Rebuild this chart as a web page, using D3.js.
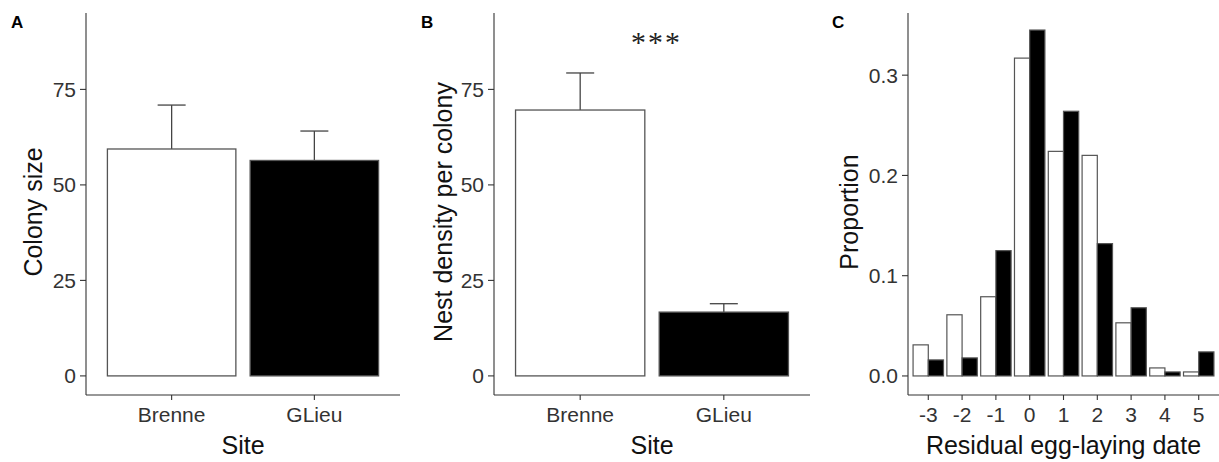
<!DOCTYPE html>
<html lang="en">
<head>
    <meta charset="UTF-8">
    <title>Colony size, nest density and laying date</title>
    <script src="https://d3js.org/d3.v7.min.js"></script>
    <style>
        body { margin: 0; background: white; font-family: "Liberation Sans", Arial, sans-serif; }
        .axis-line { stroke: #333; stroke-width: 1.1px; }
        .tick-label { font-size: 21px; fill: #333; }
        .axis-title { font-size: 25px; fill: #111; }
        .panel-label { font-size: 17px; font-weight: bold; fill: #000; }
    </style>
</head>
<body>
    <svg width="1219" height="462"></svg>

    <script>
        // data
        const sites = ["Brenne", "GLieu"];
        const colonySize = [59.4, 56.4];
        const colonySizeSE = [11.5, 7.7];
        const nestDensity = [69.6, 16.7];
        const nestDensitySE = [9.7, 2.2];

        const residualDays = ["-3", "-2", "-1", "0", "1", "2", "3", "4", "5"];
        const propBrenne = [0.031, 0.061, 0.079, 0.317, 0.224, 0.220, 0.053, 0.008, 0.004];
        const propGLieu  = [0.016, 0.018, 0.125, 0.345, 0.264, 0.132, 0.068, 0.004, 0.024];

        const fills = { Brenne: "white", GLieu: "black" };
        const yTicksAB = [0, 25, 50, 75];
        const yTicksC = [0, 0.1, 0.2, 0.3];

        const svg = d3.select("svg");
        const yTop = 13, yBottom = 395;

        // draws the axes of one panel, returns scales
        function drawAxes(x0, x1, yDomain, yTicks, yFmt, cats, xTitle, yTitle, yTitleX, label, labelX) {
            const g = svg.append("g");
            const x = d3.scaleBand().domain(cats).range([x0, x1])
                .paddingInner(0.1).paddingOuter(0.15);
            const y = d3.scaleLinear().domain(yDomain).range([yBottom, yTop]);

            g.append("line").attr("class", "axis-line")
                .attr("x1", x0).attr("x2", x0).attr("y1", yTop).attr("y2", yBottom);
            g.append("line").attr("class", "axis-line")
                .attr("x1", x0).attr("x2", x1).attr("y1", yBottom).attr("y2", yBottom);

            yTicks.forEach(t => {
                g.append("line").attr("class", "axis-line")
                    .attr("x1", x0 - 6).attr("x2", x0).attr("y1", y(t)).attr("y2", y(t));
                g.append("text").attr("class", "tick-label")
                    .attr("x", x0 - 10).attr("y", y(t))
                    .attr("text-anchor", "end").attr("dominant-baseline", "central")
                    .text(yFmt(t));
            });

            cats.forEach(c => {
                const cx = x(c) + x.bandwidth() / 2;
                g.append("line").attr("class", "axis-line")
                    .attr("x1", cx).attr("x2", cx).attr("y1", yBottom).attr("y2", yBottom + 5);
                g.append("text").attr("class", "tick-label")
                    .attr("x", cx).attr("y", yBottom + 19)
                    .attr("text-anchor", "middle").attr("dominant-baseline", "central")
                    .text(c);
            });

            g.append("text").attr("class", "axis-title")
                .attr("x", (x0 + x1) / 2).attr("y", yBottom + 50)
                .attr("text-anchor", "middle").attr("dominant-baseline", "central")
                .text(xTitle);
            g.append("text").attr("class", "axis-title")
                .attr("transform", `translate(${yTitleX},${(yTop + yBottom) / 2 + 8}) rotate(-90)`)
                .attr("text-anchor", "middle").attr("dominant-baseline", "central")
                .text(yTitle);
            g.append("text").attr("class", "panel-label")
                .attr("x", labelX).attr("y", 28).text(label);

            return { g, x, y };
        }

        function barPanel(x0, x1, values, se, yTitle, yTitleX, label, labelX) {
            const { g, x, y } = drawAxes(x0, x1, [-5, 95], yTicksAB, d3.format("d"),
                sites, "Site", yTitle, yTitleX, label, labelX);

            sites.forEach((s, i) => {
                const cx = x(s) + x.bandwidth() / 2;
                // error bar (upper whisker only)
                g.append("line").attr("stroke", "#444").attr("stroke-width", 1.3)
                    .attr("x1", cx).attr("x2", cx)
                    .attr("y1", y(values[i])).attr("y2", y(values[i] + se[i]));
                g.append("line").attr("stroke", "#444").attr("stroke-width", 1.3)
                    .attr("x1", cx - 14).attr("x2", cx + 14)
                    .attr("y1", y(values[i] + se[i])).attr("y2", y(values[i] + se[i]));
                g.append("rect")
                    .attr("x", x(s)).attr("width", x.bandwidth())
                    .attr("y", y(values[i])).attr("height", y(0) - y(values[i]))
                    .attr("fill", fills[s]).attr("stroke", "#555").attr("stroke-width", 1.3);
            });
            return { g, x, y };
        }

        barPanel(86, 400, colonySize, colonySizeSE, "Colony size", 33, "A", 11);
        const pB = barPanel(494, 810, nestDensity, nestDensitySE, "Nest density per colony", 443, "B", 421);

        pB.g.append("text")
            .attr("x", 655).attr("y", 52)
            .attr("text-anchor", "middle")
            .style("font-family", "'Liberation Serif', serif")
            .style("font-style", "italic")
            .style("font-size", "30px")
            .style("letter-spacing", "2px")
            .attr("fill", "#222")
            .text("***");

        // panel C: grouped histogram
        const pC = drawAxes(908, 1219, [-0.019, 0.362], yTicksC, d3.format(".1f"),
            residualDays, "Residual egg-laying date", "Proportion", 849, "C", 832);

        const sub = d3.scaleBand().domain(sites).range([0, pC.x.bandwidth()]);
        const rows = residualDays.map((d, i) => ({ day: d, Brenne: propBrenne[i], GLieu: propGLieu[i] }));

        pC.g.selectAll(".day")
            .data(rows)
            .enter()
            .append("g")
            .attr("transform", d => `translate(${pC.x(d.day)},0)`)
            .selectAll("rect")
            .data(d => sites.map(s => ({ site: s, value: d[s] })))
            .enter()
            .append("rect")
            .attr("x", d => sub(d.site))
            .attr("width", sub.bandwidth())
            .attr("y", d => pC.y(d.value))
            .attr("height", d => pC.y(0) - pC.y(d.value))
            .attr("fill", d => fills[d.site])
            .attr("stroke", "#555")
            .attr("stroke-width", 1.2);
    </script>
</body>
</html>
